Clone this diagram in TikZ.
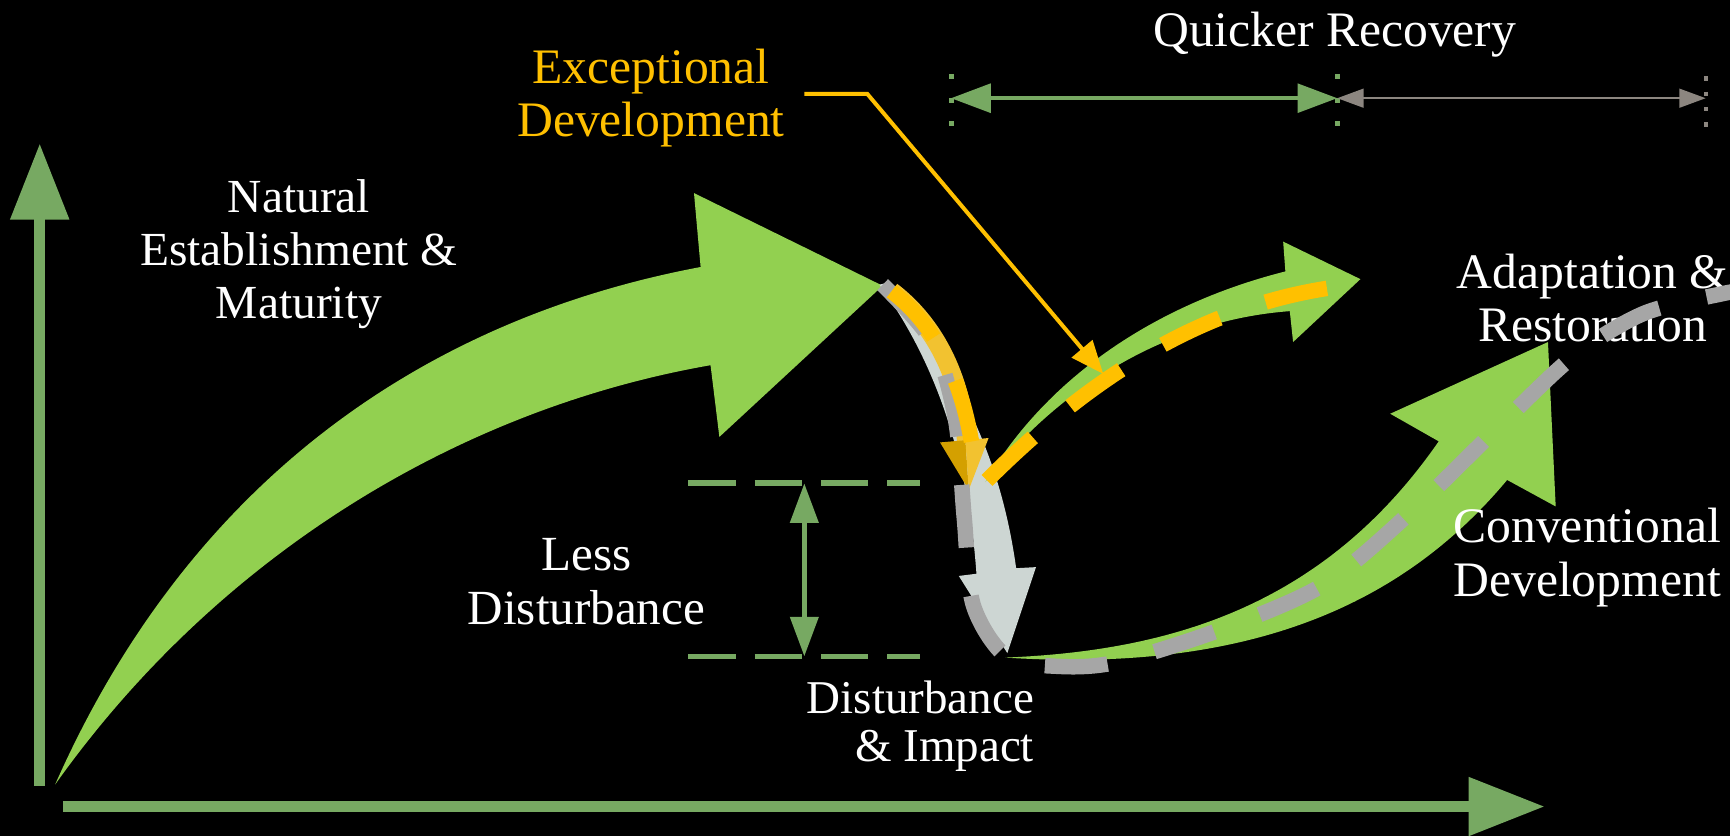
\documentclass[tikz,border=0pt]{standalone}
\usepackage{fontspec}
\setmainfont{Liberation Serif}
\usepackage{tikz}
\usetikzlibrary{arrows.meta}
\definecolor{axisCol}{RGB}{119,169,98}
\definecolor{leafCol}{RGB}{146,208,80}
\definecolor{impactCol}{RGB}{205,214,211}
\definecolor{convDashCol}{RGB}{166,166,166}
\definecolor{excCol}{RGB}{255,192,0}
\definecolor{excShaftCol}{RGB}{242,194,48}
\definecolor{excDarkCol}{RGB}{212,160,0}
\definecolor{quickGreyCol}{RGB}{140,134,128}
\tikzset{myAxisLine/.style={line width=10pt,color=axisCol}}
\tikzset{myLevelLine/.style={line width=5.4pt,color=axisCol,dash pattern=on 43pt off 17pt}}
\tikzset{myConvDash/.style={line width=14pt,color=convDashCol,dash pattern=on 57pt off 44pt}}
\tikzset{myExcDash/.style={line width=14pt,color=excCol,dash pattern=on 57pt off 44pt}}
\tikzset{myLabel/.style={text=white,align=center,anchor=base,font=\fontsize{45}{48.4}\selectfont}}
\newcommand{\bigTip}{Triangle[length=69pt,width=51pt]}

\begin{document}
\begin{tikzpicture}[x=1pt,y=-1pt]
	\fill[black] (0,0) rectangle (1568,758);
	\useasboundingbox (0,0) rectangle (1568,758);
	% axes
	\draw[myAxisLine, -{\bigTip}] (36,712) -- (36,130);
	\draw[myAxisLine, -{\bigTip}] (57,731) -- (1400,731);

	% natural establishment
	\fill[leafCol] (50,711) .. controls (170,440) and (380,290) .. (635,242) -- (629,175) -- (800,259) -- (652,396) -- (644,331) .. controls (420,370) and (200,500) .. (50,711) -- cycle;
	% disturbance
	\fill[impactCol] (797,258) -- (805,256) .. controls (860,330) and (905,400) .. (921,515) -- (939,514) -- (913,592) -- (869,522) -- (885,520) .. controls (878,420) and (850,330) .. (797,258) -- cycle;
	% recovery arrows
	\fill[leafCol] (893,437) .. controls (950,340) and (1050,275) .. (1165,246) -- (1163,219) -- (1233,253) -- (1172,310) -- (1169,282) .. controls (1060,290) and (960,350) .. (893,437) -- cycle;
	\fill[leafCol] (911,596) .. controls (1060,590) and (1200,550) .. (1304,400) -- (1260,375) -- (1403,310) -- (1410,459) -- (1366,435) .. controls (1270,550) and (1130,610) .. (911,596) -- cycle;

	% exceptional shaft and head
	\draw[excShaftCol, line width=17pt] (808,264) .. controls (845,292) and (872,340) .. (876,402);
	\fill[excDarkCol] (852,401) -- (875,399) -- (878,444) -- cycle;
	\fill[excShaftCol] (875,399) -- (896,397) -- (878,444) -- cycle;

	% labels (base = last line)
	\node[myLabel, font=\fontsize{43}{47.7}\selectfont] (natLbl) at (271,288.4) {Natural\\Establishment \&\\Maturity};
	\node[myLabel, text=excCol] (excLbl) at (590,124) {Exceptional\\Development};
	\node[myLabel] (quickLbl) at (1210,42) {Quicker Recovery};
	\node[myLabel] (adaptLbl) at (1443.5,309.7) {Adaptation \&\\Restoration};
	\node[myLabel] (convLbl) at (1438.5,540.2) {Conventional\\Development};
	\node[myLabel, font=\fontsize{44.5}{48.7}\selectfont] (lessLbl) at (531.5,565.6) {Less\\Disturbance};
	\node[myLabel, align=right, anchor=base east, font=\fontsize{42.6}{43.8}\selectfont] (distLbl) at (940.7,690.4) {Disturbance\\\& Impact};

	% dashed pathways
	\draw[myConvDash] plot[smooth] coordinates {(800,258) (845,310) (866,380) (874,470) (882,548) (912,595) (960,604) (1013,600) (1108,570) (1201,529) (1281,462) (1354,391) (1426,323) (1490,284) (1562,266) (1585,263)};
	\draw[myExcDash] (808,264) .. controls (845,292) and (872,340) .. (882,410) .. controls (885,428) and (887,440) .. (893,437) .. controls (980,350) and (1080,280) .. (1205,261);

	% callout
	\coordinate (exStart) at (729,85);
	\coordinate (exBend) at (786,85);
	\coordinate (exTip) at (1000,339);
	\draw[excCol, line width=3.6pt, -{Triangle[length=30pt,width=24pt]}] (exStart) -- (exBend) -- (exTip);

	% less disturbance
	\draw[myLevelLine] (624,438) -- (834,438);
	\draw[myLevelLine] (624,595) -- (834,595);
	\coordinate (lessTop) at (729,438);
	\coordinate (lessBot) at (729,595);
	\draw[axisCol, line width=5pt, {Triangle[length=36pt,width=25pt]}-{Triangle[length=36pt,width=25pt]}] (lessTop) -- (lessBot);

	% quicker recovery
	\coordinate (quickA) at (862,89);
	\coordinate (quickB) at (1212,89);
	\coordinate (quickC) at (1546,89);
	\draw[axisCol, line width=4.5pt, dash pattern=on 4.5pt off 17pt] (862,67) -- (862,116);
	\draw[axisCol, line width=4.5pt, dash pattern=on 4.5pt off 17pt] (1212,67) -- (1212,116);
	\draw[quickGreyCol, line width=4pt, dash pattern=on 4pt off 10pt] (1546,69) -- (1546,116);
	\draw[axisCol, line width=3.5pt, {Triangle[length=36pt,width=26pt]}-{Triangle[length=36pt,width=26pt]}] (quickA) -- (quickB);
	\draw[quickGreyCol, line width=2.2pt, {Triangle[length=24pt,width=17pt]}-{Triangle[length=24pt,width=17pt]}] (quickB) -- (quickC);
\end{tikzpicture}
\end{document}
